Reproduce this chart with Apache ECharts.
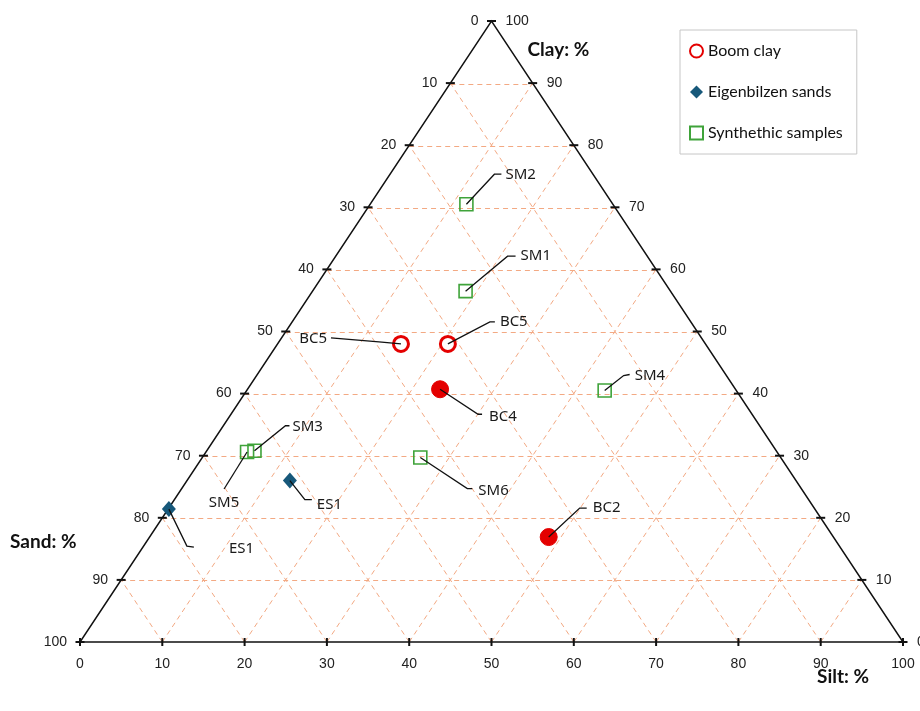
<!DOCTYPE html>
<html>
<head>
<meta charset="utf-8">
<title>Ternary diagram – Sand / Silt / Clay</title>
<script src="https://cdn.jsdelivr.net/npm/echarts@6/dist/echarts.min.js"></script>
<style>
  html, body { margin: 0; padding: 0; background: #fff; }
  #chart { width: 920px; height: 711px; }
</style>
</head>
<body>
<div id="chart"></div>
<script>
// ---- Data (grain size fractions, %) ----
const tickValues = [0, 10, 20, 30, 40, 50, 60, 70, 80, 90, 100];
const gridValues = [10, 20, 30, 40, 50, 60, 70, 80, 90];

const boomNames  = ['BC5', 'BC5', 'BC4', 'BC2'];
const boomSand   = [37.0, 31.3, 35.9, 34.6];
const boomSilt   = [15.0, 20.7, 23.4, 48.5];
const boomClay   = [48.0, 48.0, 40.7, 16.9];
const boomFilled = [false, false, true, true];

const esNames = ['ES1', 'ES1'];
const esSand  = [78.5, 61.5];
const esSilt  = [0.1, 12.5];
const esClay  = [21.4, 26.0];

const smNames = ['SM1', 'SM2', 'SM3', 'SM4', 'SM5', 'SM6'];
const smSand  = [24.9, 17.8, 63.4, 16.0, 64.4, 43.8];
const smSilt  = [18.6, 11.7, 5.8, 43.5, 5.0, 26.5];
const smClay  = [56.5, 70.5, 30.8, 40.5, 30.6, 29.7];

const seriesNames = ['Boom clay', 'Eigenbilzen sands', 'Synthethic samples'];

// ---- Ternary -> plane: sand corner bottom-left, silt bottom-right, clay top ----
function tern(silt, clay) { return [silt + clay / 2, clay]; }

// ---- Callout leader geometry (pixel offsets from each marker) ----
const calloutLayout = {
  boom: [
    { path: [[-22, -2], [-70, -6]], text: [-74, -5], align: 'right' },
    { path: [[42, -22], [47, -22]], text: [52, -22], align: 'left' },
    { path: [[38, 25], [42, 25]], text: [49, 27], align: 'left' },
    { path: [[31, -29], [38, -29]], text: [44, -29], align: 'left' }
  ],
  es: [
    { path: [[18, 37], [25, 38]], text: [60, 40], align: 'left' },
    { path: [[15, 19], [22, 19]], text: [27, 24], align: 'left' }
  ],
  sm: [
    { path: [[42, -35], [50, -35]], text: [55, -35], align: 'left' },
    { path: [[28, -30], [35, -30]], text: [39, -29], align: 'left' },
    { path: [[31, -25], [35, -25]], text: [38, -24], align: 'left' },
    { path: [[19, -15], [25, -16]], text: [30, -15], align: 'left' },
    { path: [[-23, 37]], text: [-23, 51], align: 'center' },
    { path: [[47, 31], [52, 31]], text: [58, 33], align: 'left' }
  ]
};

const RED = '#e40000', BLUE = '#17587a', GREEN = '#3fa33a';

const boomData = boomNames.map((n, i) => ({
  name: n,
  value: tern(boomSilt[i], boomClay[i]).concat([boomSand[i]]),
  symbolSize: boomFilled[i] ? 17 : 15,
  itemStyle: boomFilled[i]
    ? { color: RED, borderColor: RED, borderWidth: 1 }
    : { color: '#fff', borderColor: RED, borderWidth: 3 }
}));
const esData = esNames.map((n, i) => ({ name: n, value: tern(esSilt[i], esClay[i]).concat([esSand[i]]) }));
const smData = smNames.map((n, i) => ({ name: n, value: tern(smSilt[i], smClay[i]).concat([smSand[i]]) }));

const calloutItems = []
  .concat(boomData.map((d, i) => Object.assign({ name: d.name, value: d.value }, calloutLayout.boom[i])))
  .concat(esData.map((d, i) => Object.assign({ name: d.name, value: d.value }, calloutLayout.es[i])))
  .concat(smData.map((d, i) => Object.assign({ name: d.name, value: d.value }, calloutLayout.sm[i])));

// ---- Triangle frame, dashed grid, ticks and tick labels ----
function renderFrame(params, api) {
  const children = [];
  const P = (silt, clay) => api.coord(tern(silt, clay));
  const gridStyle = { stroke: '#f3a983', lineWidth: 1, lineDash: [5, 4], fill: null };

  gridValues.forEach(v => {
    // constant clay (horizontal, kept on an even pixel row so it stays crisp)
    let a = P(0, v), b = P(100 - v, v);
    const hy = Math.round(a[1] / 2) * 2 + 0.5;
    children.push({ type: 'line', shape: { x1: a[0], y1: hy, x2: b[0], y2: hy }, style: gridStyle });
    // constant silt
    a = P(v, 0); b = P(v, 100 - v);
    children.push({ type: 'line', shape: { x1: a[0], y1: a[1], x2: b[0], y2: b[1] }, style: gridStyle });
    // constant sand
    a = P(100 - v, 0); b = P(0, 100 - v);
    children.push({ type: 'line', shape: { x1: a[0], y1: a[1], x2: b[0], y2: b[1] }, style: gridStyle });
  });

  const A = P(0, 0), B = P(100, 0), C = P(0, 100);
  children.push({
    type: 'polygon', shape: { points: [A, B, C] },
    style: { stroke: '#111', lineWidth: 1.5, fill: null }
  });

  const tickStyle = { stroke: '#111', lineWidth: 2 };
  const labelFont = '14px "Liberation Sans", Arial, sans-serif';
  const labelColor = '#222';
  tickValues.forEach(v => {
    // left edge: sand
    const l = P(0, v);
    children.push({ type: 'line', shape: { x1: l[0] - 4.5, y1: l[1], x2: l[0] + 4.5, y2: l[1] }, style: tickStyle });
    children.push({ type: 'text', x: l[0] - 13, y: l[1], style: { text: String(100 - v), font: labelFont, fill: labelColor, align: 'right', verticalAlign: 'middle' } });
    // right edge: clay
    const r = P(100 - v, v);
    children.push({ type: 'line', shape: { x1: r[0] - 4.5, y1: r[1], x2: r[0] + 4.5, y2: r[1] }, style: tickStyle });
    children.push({ type: 'text', x: r[0] + 14, y: r[1], style: { text: String(v), font: labelFont, fill: labelColor, align: 'left', verticalAlign: 'middle' } });
    // bottom edge: silt
    const b = P(v, 0);
    children.push({ type: 'line', shape: { x1: b[0], y1: b[1] - 4, x2: b[0], y2: b[1] + 4 }, style: tickStyle });
    children.push({ type: 'text', x: b[0], y: b[1] + 22, style: { text: String(v), font: labelFont, fill: labelColor, align: 'center', verticalAlign: 'middle' } });
  });

  const nameFont = 'bold 19px Lato, "Open Sans", sans-serif';
  children.push({ type: 'text', x: C[0] + 36, y: C[1] + 29, style: { text: 'Clay: %', font: nameFont, fill: '#111', align: 'left', verticalAlign: 'middle' } });
  children.push({ type: 'text', x: A[0] - 70, y: A[1] - 100, style: { text: 'Sand: %', font: nameFont, fill: '#111', align: 'left', verticalAlign: 'middle' } });
  children.push({ type: 'text', x: B[0] - 86, y: B[1] + 35, style: { text: 'Silt: %', font: nameFont, fill: '#111', align: 'left', verticalAlign: 'middle' } });

  return { type: 'group', children: children };
}

function renderCallout(params, api) {
  const p = api.coord([api.value(0), api.value(1)]);
  const c = calloutItems[params.dataIndex];
  const pts = [[p[0], p[1]]].concat(c.path.map(d => [p[0] + d[0], p[1] + d[1]]));
  return {
    type: 'group',
    children: [
      { type: 'polyline', shape: { points: pts }, style: { stroke: '#111', lineWidth: 1.3, fill: null } },
      {
        type: 'text', x: p[0] + c.text[0], y: p[1] + c.text[1],
        style: { text: c.name, font: '15px "Noto Sans", sans-serif', fill: '#1a1a1a', align: c.align, verticalAlign: 'middle' }
      }
    ]
  };
}

const chart = echarts.init(document.getElementById('chart'), null, { renderer: 'canvas' });
chart.setOption({
  animation: false,
  backgroundColor: '#fff',
  grid: { left: 80, right: 17, top: 21, bottom: 69 },
  xAxis: { type: 'value', min: 0, max: 100, show: false },
  yAxis: { type: 'value', min: 0, max: 100, show: false },
  legend: {
    data: seriesNames,
    orient: 'vertical',
    left: 680, top: 30,
    padding: [13, 14, 13, 9],
    itemGap: 25,
    itemWidth: 13, itemHeight: 13,
    borderColor: '#c6c6c6', borderWidth: 1,
    backgroundColor: '#fff',
    selectedMode: false,
    textStyle: { fontFamily: 'Lato, "Open Sans", sans-serif', fontSize: 16, color: '#111' }
  },
  series: [
    {
      type: 'custom', name: 'frame', silent: true, z: 1,
      data: [[0, 0]], renderItem: renderFrame
    },
    {
      type: 'scatter', name: seriesNames[0], z: 3,
      symbol: 'circle', symbolSize: 15,
      itemStyle: { color: '#fff', borderColor: RED, borderWidth: 3, opacity: 1 },
      data: boomData
    },
    {
      type: 'scatter', name: seriesNames[1], z: 3,
      symbol: 'diamond', symbolSize: [14, 16],
      itemStyle: { color: BLUE, opacity: 1 },
      data: esData
    },
    {
      type: 'scatter', name: seriesNames[2], z: 3,
      symbol: 'rect', symbolSize: 13,
      itemStyle: { color: 'rgba(255,255,255,0)', borderColor: GREEN, borderWidth: 1.6, opacity: 1 },
      data: smData
    },
    {
      type: 'custom', name: 'callouts', silent: true, z: 5,
      data: calloutItems.map(c => c.value), renderItem: renderCallout
    }
  ]
});
</script>
</body>
</html>
